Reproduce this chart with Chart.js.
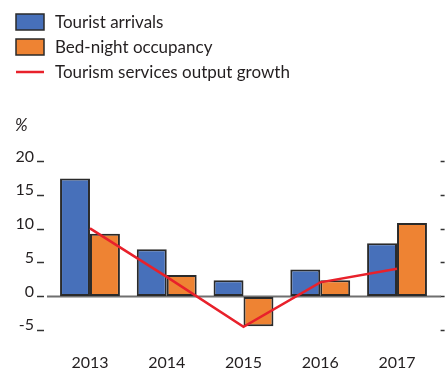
<!DOCTYPE html>
<html>
<head>
<meta charset="utf-8">
<script src="https://cdn.jsdelivr.net/npm/chart.js@4.4.0/dist/chart.umd.min.js"></script>
<style>
  html, body { margin: 0; padding: 0; background: #ffffff; }
  #wrap { width: 445px; height: 371px; }
</style>
</head>
<body>
<div id="wrap"><canvas id="c" width="445" height="371" style="width:445px;height:371px"></canvas></div>
<script>
const categories = ['2013', '2014', '2015', '2016', '2017'];
const touristArrivals = [17.5, 7.0, 2.4, 4.0, 7.9];
const bedNightOccupancy = [9.3, 3.2, -4.4, 2.4, 10.9];
const outputGrowth = [10.1, 2.9, -4.5, 2.1, 4.1];
const seriesNames = ['Tourist arrivals', 'Bed-night occupancy', 'Tourism services output growth'];
const yMin = -5, yMax = 20, yStep = 5;
const unitLabel = '%';

const BLUE = '#4770BA', ORANGE = '#EE8333', RED = '#E8212B', EDGE = '#2a2a2a', TEXT = '#231f20';
const FONT = 'Lato, "Open Sans", sans-serif';

const decorPlugin = {
  id: 'decor',
  beforeDatasetsDraw(chart) {
    const ctx = chart.ctx, y = chart.scales.y;
    const yz = y.getPixelForValue(0);
    ctx.save();
    ctx.strokeStyle = '#6f6f6f';
    ctx.lineWidth = 2;
    ctx.beginPath();
    ctx.moveTo(47, yz);
    ctx.lineTo(441, yz);
    ctx.stroke();
    ctx.restore();
  },
  afterDraw(chart) {
    const ctx = chart.ctx;
    ctx.save();
    chart.data.datasets.forEach((ds, i) => {
      const cy = 22 + 25 * i;
      if (ds.type === 'line') {
        ctx.strokeStyle = ds.borderColor;
        ctx.lineWidth = 2.5;
        ctx.beginPath();
        ctx.moveTo(16, cy);
        ctx.lineTo(44, cy);
        ctx.stroke();
      } else {
        ctx.fillStyle = ds.backgroundColor;
        ctx.fillRect(16, cy - 8, 28, 16);
        ctx.strokeStyle = EDGE;
        ctx.lineWidth = 1.5;
        ctx.strokeRect(16, cy - 8, 28, 16);
      }
      ctx.fillStyle = TEXT;
      ctx.font = '17px ' + FONT;
      ctx.textBaseline = 'middle';
      ctx.textAlign = 'left';
      ctx.fillText(ds.label, 55, cy + 1);
    });
    ctx.font = 'italic 17px ' + FONT;
    ctx.textBaseline = 'alphabetic';
    ctx.fillText(unitLabel, 15, 131);
    ctx.restore();
  }
};

new Chart(document.getElementById('c'), {
  data: {
    labels: categories,
    datasets: [
      { type: 'bar', label: seriesNames[0], data: touristArrivals, backgroundColor: BLUE,
        borderColor: EDGE, borderWidth: 2, borderSkipped: false, order: 2,
        categoryPercentage: 0.78, barPercentage: 1.0 },
      { type: 'bar', label: seriesNames[1], data: bedNightOccupancy, backgroundColor: ORANGE,
        borderColor: EDGE, borderWidth: 2, borderSkipped: false, order: 2,
        categoryPercentage: 0.78, barPercentage: 1.0 },
      { type: 'line', label: seriesNames[2], data: outputGrowth, borderColor: RED,
        backgroundColor: RED, borderWidth: 2.5, pointRadius: 0, tension: 0, order: 1 }
    ]
  },
  options: {
    responsive: false,
    animation: false,
    devicePixelRatio: 1,
    layout: { padding: { top: 161.5, left: 0, right: 0, bottom: 0 } },
    plugins: { legend: { display: false }, tooltip: { enabled: false } },
    scales: {
      x: {
        grid: { display: false },
        border: { display: false },
        ticks: { color: TEXT, font: { family: FONT, size: 16 }, padding: 15 },
        afterFit(s) { s.height = 40.75; }
      },
      y: {
        position: 'left',
        min: yMin, max: yMax,
        border: { display: false },
        grid: { drawOnChartArea: false, drawTicks: true, tickLength: 14.6,
                tickColor: '#333', tickWidth: 1.5, tickBorderDash: [7, 100] },
        ticks: { stepSize: yStep, color: TEXT, font: { family: FONT, size: 16 },
                 padding: 3, labelOffset: -5 },
        afterFit(s) { s.width = 51.6; }
      },
      y2: {
        position: 'right',
        min: yMin, max: yMax,
        border: { display: false },
        grid: { drawOnChartArea: false, drawTicks: true, tickLength: 9.6,
                tickColor: '#333', tickWidth: 1.5, tickBorderDash: [0, 5.6, 4, 100] },
        ticks: { stepSize: yStep, display: false },
        afterFit(s) { s.width = 9.6; }
      }
    }
  },
  plugins: [decorPlugin]
});
</script>
</body>
</html>
